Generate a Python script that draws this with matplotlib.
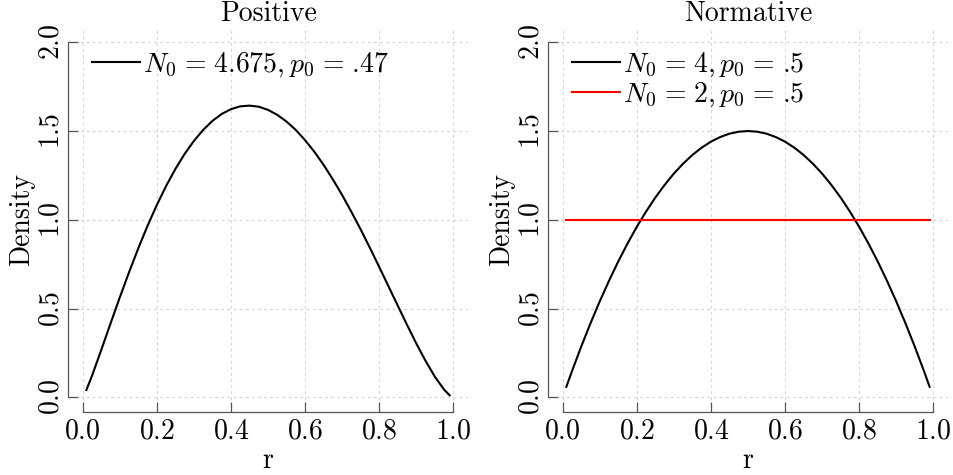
import matplotlib
matplotlib.use('Agg')
import matplotlib.pyplot as plt

# Fonts: Computer Modern look
plt.rcParams['font.family'] = 'serif'
plt.rcParams['font.serif'] = ['cmr10']
plt.rcParams['mathtext.fontset'] = 'cm'
plt.rcParams['axes.formatter.use_mathtext'] = True
plt.rcParams['font.size'] = 20

# Data
r = [0.01, 0.025, 0.05, 0.075, 0.10, 0.125, 0.15, 0.175, 0.20, 0.225, 0.25,
     0.275, 0.30, 0.325, 0.35, 0.375, 0.40, 0.425, 0.45, 0.475, 0.50,
     0.525, 0.55, 0.575, 0.60, 0.625, 0.65, 0.675, 0.70, 0.725, 0.75,
     0.775, 0.80, 0.825, 0.85, 0.875, 0.90, 0.925, 0.95, 0.975, 0.99]
positive = [0.041, 0.120, 0.266, 0.415, 0.562, 0.704, 0.839, 0.966, 1.083, 1.190,
            1.286, 1.371, 1.444, 1.506, 1.557, 1.596, 1.623, 1.639, 1.643, 1.637,
            1.619, 1.591, 1.553, 1.506, 1.448, 1.383, 1.309, 1.227, 1.139, 1.044,
            0.945, 0.841, 0.734, 0.625, 0.516, 0.408, 0.303, 0.205, 0.116, 0.043,
            0.011]
norm_n4 = [0.059, 0.146, 0.285, 0.416, 0.540, 0.656, 0.765, 0.866, 0.960, 1.046,
           1.125, 1.196, 1.260, 1.316, 1.365, 1.406, 1.440, 1.466, 1.485, 1.496,
           1.500, 1.496, 1.485, 1.466, 1.440, 1.406, 1.365, 1.316, 1.260, 1.196,
           1.125, 1.046, 0.960, 0.866, 0.765, 0.656, 0.540, 0.416, 0.285, 0.146,
           0.059]
norm_n2 = [1.0] * len(r)

titles = ['Positive', 'Normative']
xticks = [0.0, 0.2, 0.4, 0.6, 0.8, 1.0]
yticks = [0.0, 0.5, 1.0, 1.5, 2.0]

# TeX-like spacing around "=" (and the leading dot kept out of mathtext)
sp = r'\hspace{0.11}'
lab_pos = r'$N_0' + sp + '=' + sp + r'4.675, p_0' + sp + '=' + sp + '$.47'
lab_n4 = r'$N_0' + sp + '=' + sp + r'4, p_0' + sp + '=' + sp + '$.5'
lab_n2 = r'$N_0' + sp + '=' + sp + r'2, p_0' + sp + '=' + sp + '$.5'

fig = plt.figure(figsize=(9.54, 4.75), dpi=100)
ax1 = fig.add_axes([0.0715, 0.1333, 0.4189, 0.8099])
ax2 = fig.add_axes([0.5746, 0.1333, 0.4189, 0.8099])

ax1.plot(r, positive, color='black', lw=1.5, label=lab_pos)
ax2.plot(r, norm_n4, color='black', lw=1.5, label=lab_n4)
ax2.plot(r, norm_n2, color='red', lw=1.5, label=lab_n2)

for ax, title in zip([ax1, ax2], titles):
    ax.set_xlim(-0.039, 1.039)
    ax.set_ylim(-0.081, 2.086)
    ax.set_xticks(xticks)
    ax.set_yticks(yticks)
    ax.grid(True, color='#d4d4d4', lw=0.8, linestyle=(0, (2.5, 3)))
    ax.set_axisbelow(True)
    for s in ['top', 'right']:
        ax.spines[s].set_visible(False)
    ax.spines['left'].set_bounds(0, 2)
    ax.spines['bottom'].set_bounds(0, 1)
    for s in ['left', 'bottom']:
        ax.spines[s].set_color('#555555')
        ax.spines[s].set_linewidth(0.9)
    ax.tick_params(direction='in', length=7, width=0.9, color='#555555')
    ax.tick_params(axis='x', pad=5)
    ax.tick_params(axis='y', pad=3, labelrotation=90)
    for lab in ax.get_yticklabels():
        lab.set_va('center')
    ax.set_title(title, fontsize=20, pad=4)
    ax.set_xlabel('r', labelpad=2)
    ax.set_ylabel('Density', labelpad=2)
    ax.legend(loc='upper left', frameon=False, handlelength=1.75,
              handletextpad=0.1, labelspacing=0.05, borderpad=0.3,
              borderaxespad=0.55)

fig.savefig('out.png', dpi=100)
